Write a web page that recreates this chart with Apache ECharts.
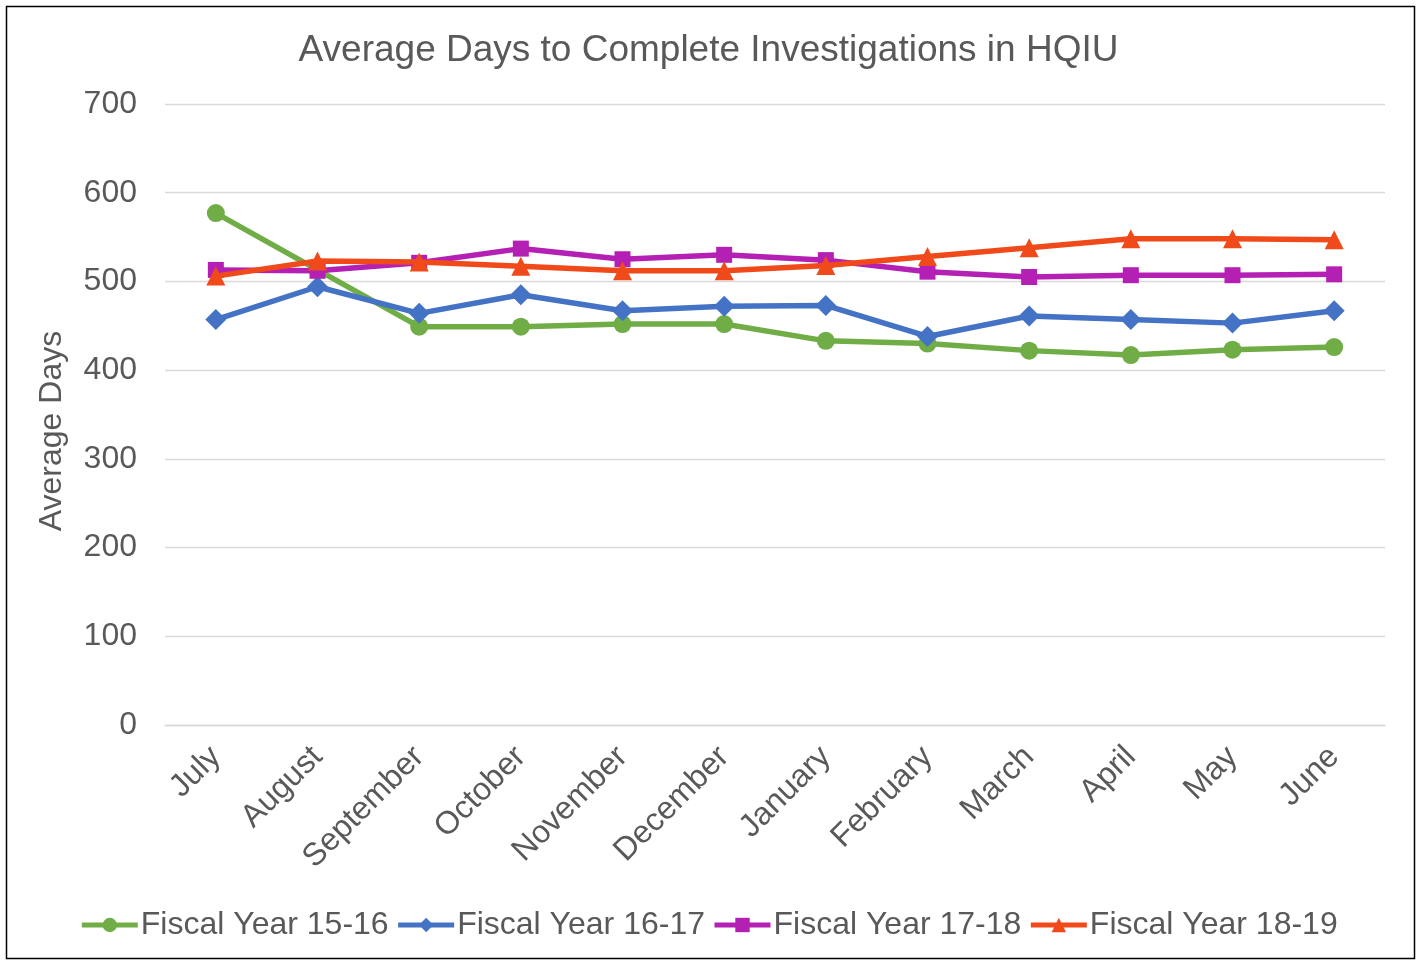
<!DOCTYPE html>
<html><head><meta charset="utf-8">
<script src="https://cdn.jsdelivr.net/npm/echarts@6/dist/echarts.min.js"></script>
<style>html,body{margin:0;padding:0;background:#fff}#c{width:1417px;height:960px}</style>
</head><body><div id="c"></div>
<script>
const months = ['July','August','September','October','November','December','January','February','March','April','May','June'];
const fy1516 = [577,513,449,449,452,452,433,430,422,417,423,426];
const fy1617 = [457,494,464,485,467,472,473,438,461,457,453,467];
const fy1718 = [513,512,521,537,525,530,524,511,505,507,507,508];
const fy1819 = [506,523,522,517,512,512,518,528,538,548,548,547];
const seriesNames = ['Fiscal Year 15-16','Fiscal Year 16-17','Fiscal Year 17-18','Fiscal Year 18-19'];
const yAxisTitle = 'Average Days';
const chartTitle = 'Average Days to Complete Investigations in HQIU';
const colors = ['#70AD47','#4472C4','#B41FB4','#F14A1A'];
const symbols = ['circle','diamond','rect','triangle'];
const sizes = [18,21,16,19];
const dataSets = [fy1516,fy1617,fy1718,fy1819];

const chart = echarts.init(document.getElementById('c'));
const font = 'Liberation Sans, Arial, sans-serif';
chart.setOption({
  animation:false,
  textStyle:{fontFamily:font},
  title:{text:chartTitle,left:'center',top:27,
    textStyle:{fontSize:37,fontWeight:'normal',color:'#595959',fontFamily:font}},
  graphic:[
    {type:'rect',shape:{x:6.5,y:6.5,width:1408,height:952},style:{fill:'none',stroke:'#000',lineWidth:1.5}},
    {type:'text',x:52,y:431,rotation:Math.PI/2,style:{text:yAxisTitle,fontSize:32,fill:'#595959',fontFamily:font,textAlign:'center',textVerticalAlign:'middle'}}
  ],
  grid:{left:165,right:32,top:104,bottom:235},
  legend:{bottom:14,left:'center',itemGap:7,itemWidth:56,itemHeight:18,
    textStyle:{fontSize:32,color:'#595959',fontFamily:font,padding:[0,0,0,-2]},
    lineStyle:{width:5},
    data:seriesNames},
  xAxis:{type:'category',data:months,boundaryGap:true,
    axisLine:{show:true,lineStyle:{color:'#D9D9D9',width:1.3}},axisTick:{show:false},
    axisLabel:{rotate:45,fontSize:32,color:'#595959',margin:27,interval:0,fontFamily:font}},
  yAxis:{type:'value',min:0,max:700,interval:100,
    axisLine:{show:false},axisTick:{show:false},
    splitLine:{lineStyle:{color:'#D9D9D9',width:1.3}},
    axisLabel:{fontSize:32,color:'#595959',margin:28,fontFamily:font}},
  series:dataSets.map((d,i)=>({name:seriesNames[i],type:'line',data:d,symbol:symbols[i],symbolSize:sizes[i],
    lineStyle:{color:colors[i],width:5.5},itemStyle:{color:colors[i]},z:2+i}))
});
</script></body></html>
